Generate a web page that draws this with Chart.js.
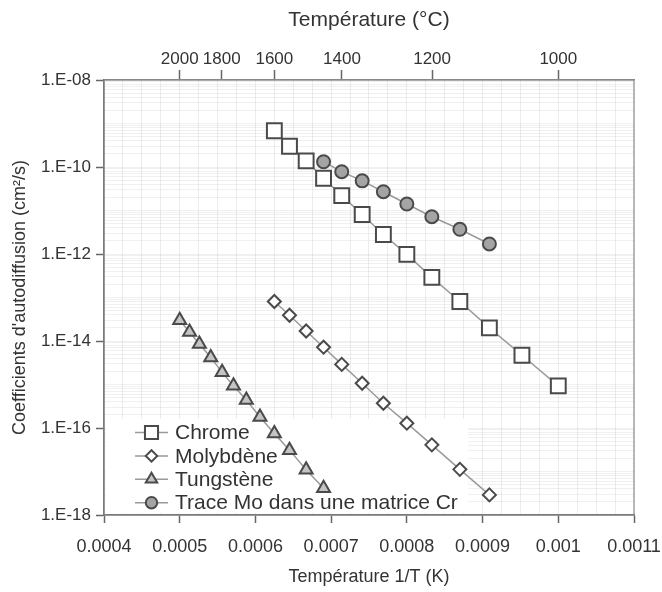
<!DOCTYPE html>
<html><head><meta charset="utf-8">
<script src="https://cdn.jsdelivr.net/npm/chart.js@4.4.1/dist/chart.umd.min.js"></script>
<style>html,body{margin:0;padding:0;background:#fff}#wrap{width:662px;height:592px;position:relative}</style>
</head><body><div id="wrap"><canvas id="c"></canvas></div>
<script>
// ---- data ----
const seriesNames = ['Chrome', 'Molybdène', 'Tungstène', 'Trace Mo dans une matrice Cr'];
const chromeX = [0.000625,0.000645,0.000667,0.000690,0.000714,0.000741,0.000769,0.000800,0.000833,0.000870,0.000909,0.000952,0.001000];
const chromeD = [6.8e-10,3.0e-10,1.38e-10,5.5e-11,2.2e-11,8.1e-12,2.8e-12,9.8e-13,2.9e-13,8.1e-14,2.0e-14,4.7e-15,9.3e-16];
const molyX = [0.000625,0.000645,0.000667,0.000690,0.000714,0.000741,0.000769,0.000800,0.000833,0.000870,0.000909];
const molyD = [8.1e-14,3.9e-14,1.7e-14,7.2e-15,2.9e-15,1.07e-15,3.7e-16,1.29e-16,4.1e-17,1.12e-17,2.9e-18];
const tungX = [0.000500,0.000513,0.000526,0.000541,0.000556,0.000571,0.000588,0.000606,0.000625,0.000645,0.000667,0.000690];
const tungD = [3.0e-14,1.6e-14,8.5e-15,4.2e-15,1.9e-15,9.3e-16,4.4e-16,1.8e-16,7.5e-17,3.1e-17,1.1e-17,4.1e-18];
const traceX = [0.000690,0.000714,0.000741,0.000769,0.000800,0.000833,0.000870,0.000909];
const traceD = [1.32e-10,7.8e-11,4.8e-11,2.7e-11,1.41e-11,7.2e-12,3.7e-12,1.7e-12];
const xTickLabels = ['0.0004','0.0005','0.0006','0.0007','0.0008','0.0009','0.001','0.0011'];
const yTickLabels = ['1.E-18','1.E-16','1.E-14','1.E-12','1.E-10','1.E-08'];
const topTempLabels = [2000,1800,1600,1400,1200,1000];

const FONT = '"Liberation Sans", Arial, Helvetica, sans-serif';
const TXT = '#333';
const AX = '#666';
const X_MIN = 0.0004, X_MAX = 0.0011, Y_MIN = 1e-18, Y_MAX = 1e-8;

function pts(xs, ys){ return xs.map((x,i)=>({x:x, y:ys[i]})); }

const styles = [
  {pointStyle:'rect', radius:10.5, fill:'#ffffff'},
  {pointStyle:'rectRot', radius:6.5, fill:'#ffffff'},
  {pointStyle:'triangle', radius:7.5, fill:'#c4c4c4'},
  {pointStyle:'circle', radius:6.5, fill:'#a4a4a4'}
];
const seriesData = [pts(chromeX,chromeD), pts(molyX,molyD), pts(tungX,tungD), pts(traceX,traceD)];

const datasets = seriesData.map((d,i)=>({
  label: seriesNames[i],
  data: d,
  showLine: true,
  borderColor: '#9a9a9a',
  borderWidth: 1.5,
  pointStyle: styles[i].pointStyle,
  pointRadius: styles[i].radius,
  pointHoverRadius: styles[i].radius,
  pointBackgroundColor: styles[i].fill,
  pointBorderColor: '#4a4a4a',
  pointBorderWidth: 2,
  order: i === 3 ? 0 : 1,
  xAxisID: 'x', yAxisID: 'y'
}));

function decadeIndex(v){
  const e = Math.log10(v);
  const r = Math.round(e);
  if (Math.abs(e - r) > 1e-6) return -1;
  const idx = (r + 18);
  if (idx % 2 !== 0) return -1;
  return idx / 2;
}
function xMajorIndex(v){
  const t = v * 1e4;
  const r = Math.round(t);
  if (Math.abs(t - r) > 1e-6) return -1;
  return r - 4;
}

const framePlugin = {
  id: 'frameAndLegend',
  beforeDatasetsDraw(chart){
    const {ctx, chartArea:a} = chart;
    ctx.save();
    // legend background
    const lx = a.left + 2, ly = a.bottom - 96;
    ctx.fillStyle = '#ffffff';
    ctx.fillRect(lx, ly, 362, 94);
    // frame
    ctx.strokeStyle = '#888';
    ctx.lineWidth = 1.2;
    ctx.strokeRect(a.left, a.top, a.right - a.left, a.bottom - a.top);
    // legend items
    const rowH = 23.4;
    const y0 = a.bottom - 82.5;
    [0,1,2,3].forEach((k, r) => {
      const y = y0 + r * rowH;
      const x0 = a.left + 31;
      ctx.strokeStyle = '#9a9a9a';
      ctx.lineWidth = 1.5;
      ctx.beginPath(); ctx.moveTo(x0, y); ctx.lineTo(x0 + 33, y); ctx.stroke();
      ctx.fillStyle = styles[k].fill;
      ctx.strokeStyle = '#4a4a4a';
      ctx.lineWidth = 2;
      Chart.helpers.drawPoint(ctx, {pointStyle: styles[k].pointStyle, radius: styles[k].radius * 0.88, rotation: 0, borderWidth: 2}, x0 + 16.5, y);
      ctx.fillStyle = TXT;
      ctx.font = '21px ' + FONT;
      ctx.textBaseline = 'middle';
      ctx.textAlign = 'left';
      ctx.fillText(seriesNames[k], x0 + 40, y + 1);
    });
    ctx.restore();
  }
};

new Chart(document.getElementById('c'), {
  type: 'line',
  data: { datasets },
  plugins: [framePlugin],
  options: {
    responsive: true,
    maintainAspectRatio: false,
    animation: false,
    layout: { padding: { left: 0, right: 0, top: 0, bottom: 0 } },
    plugins: { legend: { display: false }, tooltip: { enabled: false } },
    scales: {
      x: {
        type: 'linear', position: 'bottom', min: X_MIN, max: X_MAX,
        afterBuildTicks: s => { const t = []; for (let i = 0; i <= 28; i++) t.push({value: X_MIN + i * 0.000025}); s.ticks = t; },
        afterFit: s => { s.height = 77; s.paddingRight = 28; s.paddingLeft = 0; },
        ticks: {
          autoSkip: false, maxRotation: 0, padding: 13, color: TXT,
          font: { family: FONT, size: 18 },
          callback: v => { const k = xMajorIndex(v); return k >= 0 ? xTickLabels[k] : ''; }
        },
        grid: {
          color: c => (c.tick && c.index > 0 && c.index < 28) ? 'rgba(0,0,0,0.07)' : 'rgba(0,0,0,0)',
          borderDash: [2, 6], lineWidth: 1,
          tickColor: c => (c.tick && xMajorIndex(c.tick.value) >= 0) ? AX : 'rgba(0,0,0,0)',
          tickLength: 8, tickBorderDash: [], tickWidth: 1.5
        },
        border: { display: true, color: AX, width: 1.5 },
        title: { display: true, text: 'Température 1/T (K)', color: TXT, font: { family: FONT, size: 18 }, padding: { top: 0, bottom: 4 } }
      },
      x2: {
        type: 'linear', position: 'top', min: X_MIN, max: X_MAX,
        afterBuildTicks: s => { s.ticks = topTempLabels.map(T => ({value: 1 / T})); },
        afterFit: s => { s.height = 80; s.paddingRight = 0; s.paddingLeft = 0; },
        ticks: {
          autoSkip: false, maxRotation: 0, padding: 0, color: TXT,
          font: { family: FONT, size: 17 },
          callback: (v, i) => String(topTempLabels[i])
        },
        grid: { drawOnChartArea: false, tickColor: AX, tickLength: 10, tickWidth: 1.5 },
        border: { display: true, color: '#888', width: 1.2 },
        title: { display: true, text: 'Température (°C)', color: TXT, font: { family: FONT, size: 21 }, padding: { top: 8, bottom: 0 } }
      },
      y: {
        type: 'logarithmic', position: 'left', min: Y_MIN, max: Y_MAX,
        afterBuildTicks: s => {
          const t = [];
          for (let e = -18; e < -8; e++) for (let k = 1; k <= 9; k++) t.push({value: Number((k + 'e' + e))});
          t.push({value: 1e-8});
          s.ticks = t;
        },
        afterFit: s => { s.width = 104; },
        ticks: {
          autoSkip: false, padding: 5, color: TXT,
          font: { family: FONT, size: 17 },
          callback: v => { const k = decadeIndex(v); return k >= 0 ? yTickLabels[k] : ''; }
        },
        grid: {
          color: c => (c.tick && c.tick.value > Y_MIN * 1.01 && c.tick.value < Y_MAX * 0.99) ? 'rgba(0,0,0,0.06)' : 'rgba(0,0,0,0)',
          borderDash: [2, 6], lineWidth: 1,
          tickColor: c => (c.tick && decadeIndex(c.tick.value) >= 0) ? AX : 'rgba(0,0,0,0)',
          tickLength: 8, tickBorderDash: [], tickWidth: 1.5
        },
        border: { display: true, color: AX, width: 1.5 },
        title: { display: true, text: "Coefficients d'autodiffusion (cm²/s)", color: TXT, font: { family: FONT, size: 18 }, padding: { top: 9, bottom: 0 } }
      }
    }
  }
});
</script>
</body></html>
